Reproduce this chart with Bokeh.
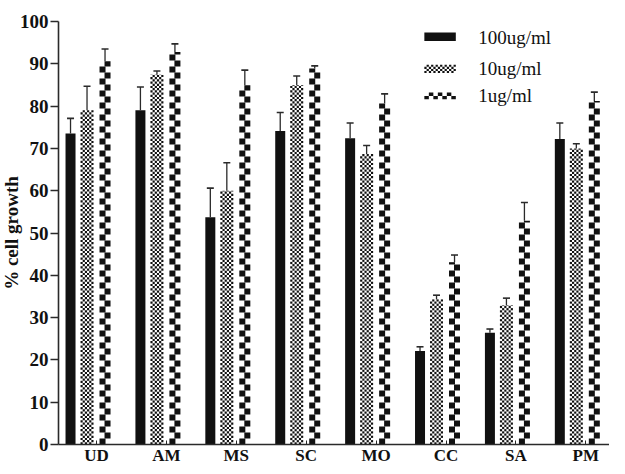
import numpy as np
from bokeh.plotting import figure
from bokeh.models import FixedTicker, Label
from bokeh.embed import file_html
from bokeh.resources import INLINE

# ---------------- data ----------------
categories = ["UD", "AM", "MS", "SC", "MO", "CC", "SA", "PM"]
series_names = ["100ug/ml", "10ug/ml", "1ug/ml"]
vals_100 = [73.5, 79.0, 53.7, 74.1, 72.4, 22.1, 26.4, 72.2]
err_100 = [3.6, 5.5, 6.9, 4.4, 3.6, 1.0, 0.9, 3.8]
vals_10 = [79.0, 87.4, 60.0, 84.9, 68.7, 34.3, 32.9, 70.0]
err_10 = [5.7, 0.9, 6.6, 2.2, 2.0, 1.0, 1.7, 1.1]
vals_1 = [90.6, 92.8, 84.9, 88.9, 80.6, 43.1, 52.9, 81.2]
err_1 = [2.9, 1.9, 3.6, 0.6, 2.3, 1.7, 4.3, 2.1]
y_ticks = list(range(0, 101, 10))
y_title = "% cell growth"

# ---------------- layout ----------------
W, H = 609, 466
sx = 69.9                 # px per category
xa = -0.544               # data x where the y axis sits
axis_px_left = 58         # px from figure left to the y axis
y0_px, y100_px = 444, 21  # px from figure top for y = 0 and y = 100
sy = (y0_px - y100_px) / 100.0
x_start = xa - axis_px_left / sx
x_end = x_start + W / sx
y_start = -(H - y0_px) / sy
y_end = 100 + y100_px / sy

FONT = "Liberation Serif"
INK = "#111111"
LINE = "#2a2a2a"

p = figure(width=W, height=H, x_range=(x_start, x_end), y_range=(y_start, y_end),
           output_backend="svg", toolbar_location=None,
           min_border=0)
p.outline_line_color = None
p.xgrid.visible = False
p.ygrid.visible = False
p.background_fill_color = "white"
p.border_fill_color = "white"

xs = np.arange(len(categories), dtype=float)

# offsets / widths in pixels
off_100, w_100 = -26.0, 10.0
off_10, w_10 = -9.5, 13.0
off_1, w_1 = 8.5, 11.0

# 100 ug/ml : solid bars
p.vbar(x=xs + off_100 / sx, width=w_100 / sx, top=vals_100, bottom=0,
       fill_color=INK, line_color=None)


def checker_quads(cx_list, tops, width_px, ncols, cell_px_h):
    L, R, B, T = [], [], [], []
    cw = width_px / ncols
    for cx, top in zip(cx_list, tops):
        left0 = cx - width_px / 2 / sx
        nrows = int(np.ceil(top * sy / cell_px_h))
        for r in range(nrows):
            b = r * cell_px_h / sy
            t = min((r + 1) * cell_px_h / sy, top)
            for k in range(ncols):
                if (r + k) % 2 == 0:
                    L.append(left0 + k * cw / sx)
                    R.append(left0 + (k + 1) * cw / sx)
                    B.append(b)
                    T.append(t)
    return L, R, B, T


def zigzag_quads(cx_list, tops, width_px, step_px):
    L, R, B, T = [], [], [], []
    half = width_px / 2
    for cx, top in zip(cx_list, tops):
        left0 = cx - width_px / 2 / sx
        nrows = int(np.ceil(top * sy / step_px))
        for r in range(nrows):
            b = r * step_px / sy
            t = min((r + 1) * step_px / sy, top)
            if r % 2 == 0:
                l = left0
            else:
                l = left0 + (width_px - half - 0.5) / sx
            L.append(l)
            R.append(l + (half + 0.5) / sx)
            B.append(b)
            T.append(t)
    return L, R, B, T


# 10 ug/ml : checker bars
cL, cR, cB, cT = checker_quads(xs + off_10 / sx, vals_10, w_10, 6, 2.2)
p.quad(left=cL, right=cR, bottom=cB, top=cT, fill_color=INK, line_color=None)

# 1 ug/ml : zigzag square bars
zL, zR, zB, zT = zigzag_quads(xs + off_1 / sx, vals_1, w_1, 6.0)
p.quad(left=zL, right=zR, bottom=zB, top=zT, fill_color=INK, line_color=None)

# error bars
cap = 3.5 / sx
for off, vals, errs in ((off_100, vals_100, err_100),
                        (off_10, vals_10, err_10),
                        (off_1, vals_1, err_1)):
    cx = xs + off / sx
    tops = np.array(vals) + np.array(errs)
    p.segment(x0=cx, y0=vals, x1=cx, y1=tops, line_color=LINE, line_width=1.3)
    p.segment(x0=cx - cap, y0=tops, x1=cx + cap, y1=tops, line_color=LINE, line_width=1.6)

# ---------------- legend (manual) ----------------
leg_x0, leg_x1 = 4.69, 5.14
leg_text_x = 5.46
leg_rows = [(97.4, 95.4), (89.8, 87.8), (83.2, 81.6)]
leg_text_y = [96.3, 88.8, 82.6]

p.quad(left=[leg_x0], right=[leg_x1], bottom=[leg_rows[0][1]], top=[leg_rows[0][0]],
       fill_color=INK, line_color=None)
sw_px = (leg_x1 - leg_x0) * sx
sh_px = (leg_rows[1][0] - leg_rows[1][1]) * sy
nc, nr = 14, 4
L, R, B, T = [], [], [], []
for r in range(nr):
    for k in range(nc):
        if (r + k) % 2 == 0:
            L.append(leg_x0 + k * sw_px / nc / sx)
            R.append(leg_x0 + (k + 1) * sw_px / nc / sx)
            B.append(leg_rows[1][1] + r * sh_px / nr / sy)
            T.append(leg_rows[1][1] + (r + 1) * sh_px / nr / sy)
p.quad(left=L, right=R, bottom=B, top=T, fill_color=INK, line_color=None)
nz = 7
zh = (leg_rows[2][0] - leg_rows[2][1]) / 2
L, R, B, T = [], [], [], []
for k in range(nz):
    L.append(leg_x0 + k * (leg_x1 - leg_x0) / nz)
    R.append(leg_x0 + (k + 1) * (leg_x1 - leg_x0) / nz)
    b = leg_rows[2][1] + (zh if k % 2 else 0)
    B.append(b)
    T.append(b + zh)
p.quad(left=L, right=R, bottom=B, top=T, fill_color=INK, line_color=None)

for name, ty in zip(series_names, leg_text_y):
    p.add_layout(Label(x=leg_text_x, y=ty, text=name, text_font=FONT,
                       text_font_size="19px", text_baseline="middle",
                       text_color=INK))

# ---------------- axes (pinned at data locations) ----------------
p.yaxis.fixed_location = xa
p.yaxis.bounds = (0, 100)
p.yaxis.ticker = FixedTicker(ticks=y_ticks)
p.yaxis.major_label_text_font = FONT
p.yaxis.major_label_text_font_style = "bold"
p.yaxis.major_label_text_font_size = "19px"
p.yaxis.major_label_text_color = INK
p.yaxis.major_tick_out = 8
p.yaxis.major_tick_in = 0
p.yaxis.minor_tick_out = 0
p.yaxis.minor_tick_in = 0
p.yaxis.major_label_standoff = 2
p.yaxis.axis_line_width = 1.6
p.yaxis.axis_line_color = LINE
p.yaxis.major_tick_line_width = 1.4
p.yaxis.major_tick_line_color = LINE

p.add_layout(Label(x=xa - 47.0 / sx, y=50, text=y_title, angle=np.pi / 2,
                   text_font=FONT, text_font_style="bold", text_font_size="19px",
                   text_align="center", text_baseline="middle", text_color=INK))

p.xaxis.fixed_location = 0
p.xaxis.bounds = (xa, x_end)
p.xaxis.ticker = FixedTicker(ticks=list(range(len(categories))))
p.xaxis.major_label_overrides = {i: c for i, c in enumerate(categories)}
p.xaxis.major_label_text_font = FONT
p.xaxis.major_label_text_font_style = "bold"
p.xaxis.major_label_text_font_size = "17px"
p.xaxis.major_label_text_color = INK
p.xaxis.major_label_standoff = 1
p.xaxis.major_tick_in = 4
p.xaxis.major_tick_out = 0
p.xaxis.minor_tick_in = 0
p.xaxis.minor_tick_out = 0
p.xaxis.axis_line_width = 1.6
p.xaxis.axis_line_color = LINE
p.xaxis.major_tick_line_color = LINE

open("out.html", "w").write(file_html(p, INLINE))
